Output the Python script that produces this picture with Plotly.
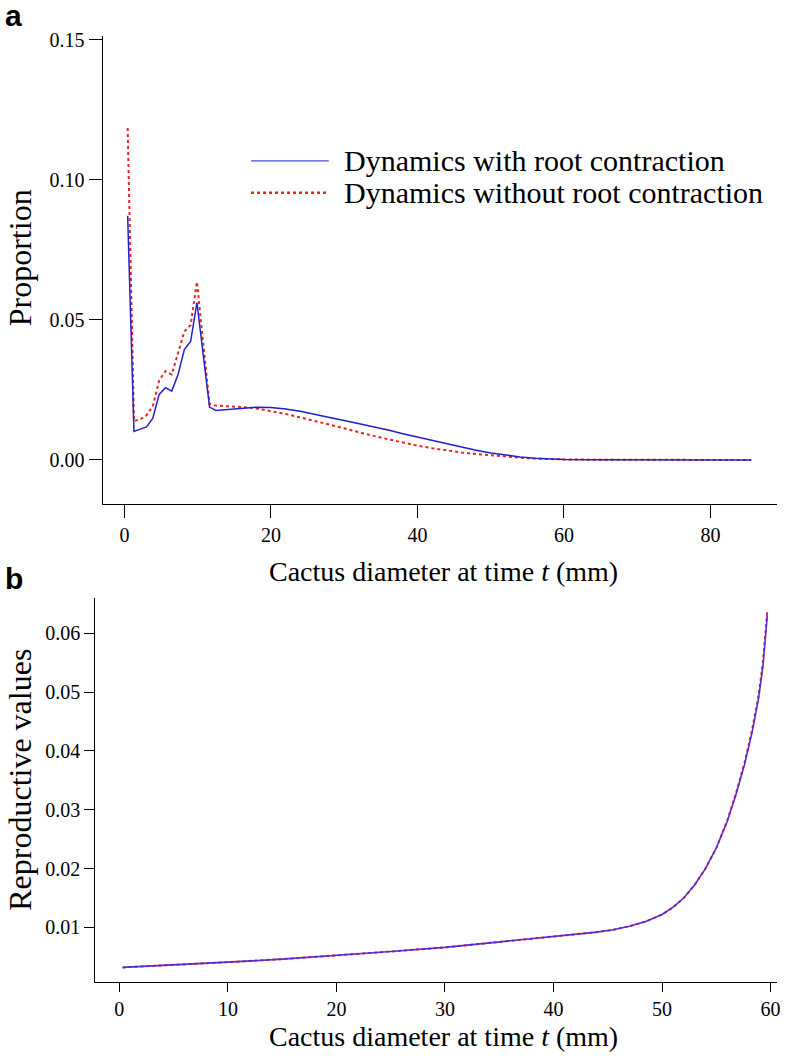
import plotly.graph_objects as go

# ---------- Panel a data ----------
a_x_blue = [0.43, 1.29, 2.15, 3.01, 3.87, 4.73, 5.59, 6.45, 7.31, 8.17, 9.03, 9.89, 10.75, 11.61, 12.47,
            14, 16, 18, 20, 22, 24, 26, 28, 30, 32, 34, 36, 38, 40, 42, 44, 46, 48, 50, 52, 54, 56, 58,
            60, 64, 70, 78, 85.57]
a_y_blue = [0.0872, 0.0102, 0.0110, 0.0118, 0.0149, 0.0234, 0.0258, 0.0246, 0.0305, 0.0394, 0.0423, 0.0562,
            0.0375, 0.0189, 0.0177, 0.0180, 0.0185, 0.0188, 0.0187, 0.0182, 0.0174, 0.0164, 0.0152, 0.0141,
            0.0130, 0.0119, 0.0107, 0.0094, 0.0082, 0.0070, 0.0058, 0.0046, 0.0035, 0.0025, 0.0017, 0.0011,
            0.0006, 0.0003, 0.0002, 0.0001, 0.00003, 0.0, 0.0]
a_x_red = [0.43, 1.29, 2.15, 3.01, 3.87, 4.73, 5.59, 6.45, 7.31, 8.17, 9.03, 9.89, 10.75, 11.61, 12.47,
           14, 16, 18, 20, 22, 24, 26, 28, 30, 32, 34, 36, 38, 40, 42, 44, 46, 48, 50, 52, 54, 56, 58,
           60, 64, 70, 78, 85.57]
a_y_red = [0.1185, 0.0139, 0.0145, 0.0160, 0.0193, 0.0284, 0.0317, 0.0305, 0.0382, 0.0459, 0.0482, 0.0636,
           0.0415, 0.0200, 0.0194, 0.0192, 0.0189, 0.0184, 0.0175, 0.0164, 0.0152, 0.0140, 0.0126, 0.0113,
           0.0099, 0.0086, 0.0074, 0.0062, 0.0051, 0.0042, 0.0034, 0.0027, 0.0021, 0.0016, 0.0012, 0.0008,
           0.0005, 0.0003, 0.0002, 0.0001, 0.0, 0.0, 0.0]

# ---------- Panel b data ----------
b_x = [0.3, 5, 10, 15, 20, 25, 30, 35, 40, 42, 44, 45.5, 47, 48.5, 50, 51, 52, 53, 54, 55, 56,
       56.8, 57.6, 58.3, 58.9, 59.3, 59.7]
b_y_blue = [0.0032, 0.0036, 0.0041, 0.0046, 0.0052, 0.0059, 0.0066, 0.0075, 0.0084, 0.0088, 0.0092,
            0.0096, 0.0102, 0.0110, 0.0122, 0.0134, 0.0150, 0.0172, 0.0200, 0.0235, 0.0280,
            0.0325, 0.0377, 0.0432, 0.0490, 0.0545, 0.0631]
b_y_red = [0.0032, 0.0036, 0.0041, 0.0046, 0.0052, 0.0059, 0.0066, 0.0075, 0.0084, 0.0088, 0.0092,
           0.0096, 0.0102, 0.0110, 0.0122, 0.0134, 0.0150, 0.0172, 0.0200, 0.0235, 0.0281,
           0.0327, 0.0380, 0.0436, 0.0495, 0.0551, 0.0638]

a_xticks = [0, 20, 40, 60, 80]
a_yticks = [0.00, 0.05, 0.10, 0.15]
a_yticktext = ["0.00", "0.05", "0.10", "0.15"]
b_xticks = [0, 10, 20, 30, 40, 50, 60]
b_yticks = [0.01, 0.02, 0.03, 0.04, 0.05, 0.06]
b_yticktext = ["0.01", "0.02", "0.03", "0.04", "0.05", "0.06"]

legend_labels = ["Dynamics with root contraction", "Dynamics without root contraction"]
x_title = "Cactus diameter at time <i>t</i> (mm)"

BLUE = "#2020cc"
RED = "#e3261f"
SERIF = "Liberation Serif, Times New Roman, serif"

W, H = 800, 1058

fig = go.Figure()
fig.add_trace(go.Scatter(x=a_x_red, y=a_y_red, mode="lines", line=dict(color=RED, width=2, dash="dot"),
                         xaxis="x", yaxis="y", showlegend=False))
fig.add_trace(go.Scatter(x=a_x_blue, y=a_y_blue, mode="lines", line=dict(color=BLUE, width=1.5),
                         xaxis="x", yaxis="y", showlegend=False))
fig.add_trace(go.Scatter(x=b_x, y=b_y_red, mode="lines", line=dict(color=RED, width=2, dash="dot"),
                         xaxis="x2", yaxis="y2", showlegend=False))
fig.add_trace(go.Scatter(x=b_x, y=b_y_blue, mode="lines", line=dict(color="#5a2ad0", width=1.6),
                         xaxis="x2", yaxis="y2", showlegend=False))

def px_x(p):
    return p / W

def px_y(p):
    return 1 - p / H

axis_common = dict(showline=True, linecolor="black", linewidth=1, ticks="outside", tickcolor="black",
                   showgrid=False, zeroline=False, tickfont=dict(family=SERIF, size=20, color="black"))

fig.update_layout(
    width=W, height=H, margin=dict(l=0, r=0, t=0, b=0),
    paper_bgcolor="white", plot_bgcolor="white",
    font=dict(family=SERIF, color="black"),
    xaxis=dict(domain=[px_x(103), px_x(780)], range=[-2.99, 89.1], tickvals=a_xticks, ticklen=13,
               anchor="y", **axis_common),
    yaxis=dict(domain=[px_y(500), px_y(29)], range=[-0.0156, 0.1514], tickvals=a_yticks,
               ticktext=a_yticktext, ticklen=13, anchor="x", **axis_common),
    xaxis2=dict(domain=[px_x(95.5), px_x(780)], range=[-2.23, 60.6], tickvals=b_xticks, ticklen=9,
                anchor="y2", **axis_common),
    yaxis2=dict(domain=[px_y(981), px_y(595)], range=[0.0008, 0.066], tickvals=b_yticks,
                ticktext=b_yticktext, ticklen=10, anchor="x2", **axis_common),
)

ann = []
# panel letters
ann.append(dict(text="<b>a</b>", x=px_x(3), y=px_y(-10), xref="paper", yref="paper", xanchor="left",
                yanchor="top", showarrow=False, font=dict(family="Liberation Sans", size=30, color="black")))
ann.append(dict(text="<b>b</b>", x=px_x(3), y=px_y(557), xref="paper", yref="paper", xanchor="left",
                yanchor="top", showarrow=False, font=dict(family="Liberation Sans", size=30, color="black")))
# axis titles
ann.append(dict(text=x_title, x=px_x(445), y=px_y(568), xref="paper", yref="paper", xanchor="center",
                yanchor="middle", showarrow=False, font=dict(family=SERIF, size=28, color="black")))
ann.append(dict(text=x_title, x=px_x(445), y=px_y(1036), xref="paper", yref="paper", xanchor="center",
                yanchor="middle", showarrow=False, font=dict(family=SERIF, size=28, color="black")))
ann.append(dict(text="Proportion", x=px_x(20), y=px_y(252), xref="paper", yref="paper", xanchor="center",
                yanchor="middle", textangle=-90, showarrow=False, font=dict(family=SERIF, size=32, color="black")))
ann.append(dict(text="Reproductive values", x=px_x(20), y=px_y(778), xref="paper", yref="paper",
                xanchor="center", yanchor="middle", textangle=-90, showarrow=False,
                font=dict(family=SERIF, size=32, color="black")))
# legend text
ann.append(dict(text=legend_labels[0], x=px_x(343), y=px_y(155), xref="paper", yref="paper", xanchor="left",
                yanchor="middle", showarrow=False, font=dict(family=SERIF, size=30, color="black")))
ann.append(dict(text=legend_labels[1], x=px_x(343), y=px_y(187), xref="paper", yref="paper", xanchor="left",
                yanchor="middle", showarrow=False, font=dict(family=SERIF, size=30, color="black")))
fig.update_layout(annotations=ann)

shapes = [
    dict(type="line", xref="paper", yref="paper", x0=px_x(252), x1=px_x(330), y0=px_y(155), y1=px_y(155),
         line=dict(color="#4a4ad8", width=1.2)),
    dict(type="line", xref="paper", yref="paper", x0=px_x(252), x1=px_x(330), y0=px_y(187), y1=px_y(187),
         line=dict(color=RED, width=2.5, dash="dot")),
]
fig.update_layout(shapes=shapes)

fig.write_html("out.html")
